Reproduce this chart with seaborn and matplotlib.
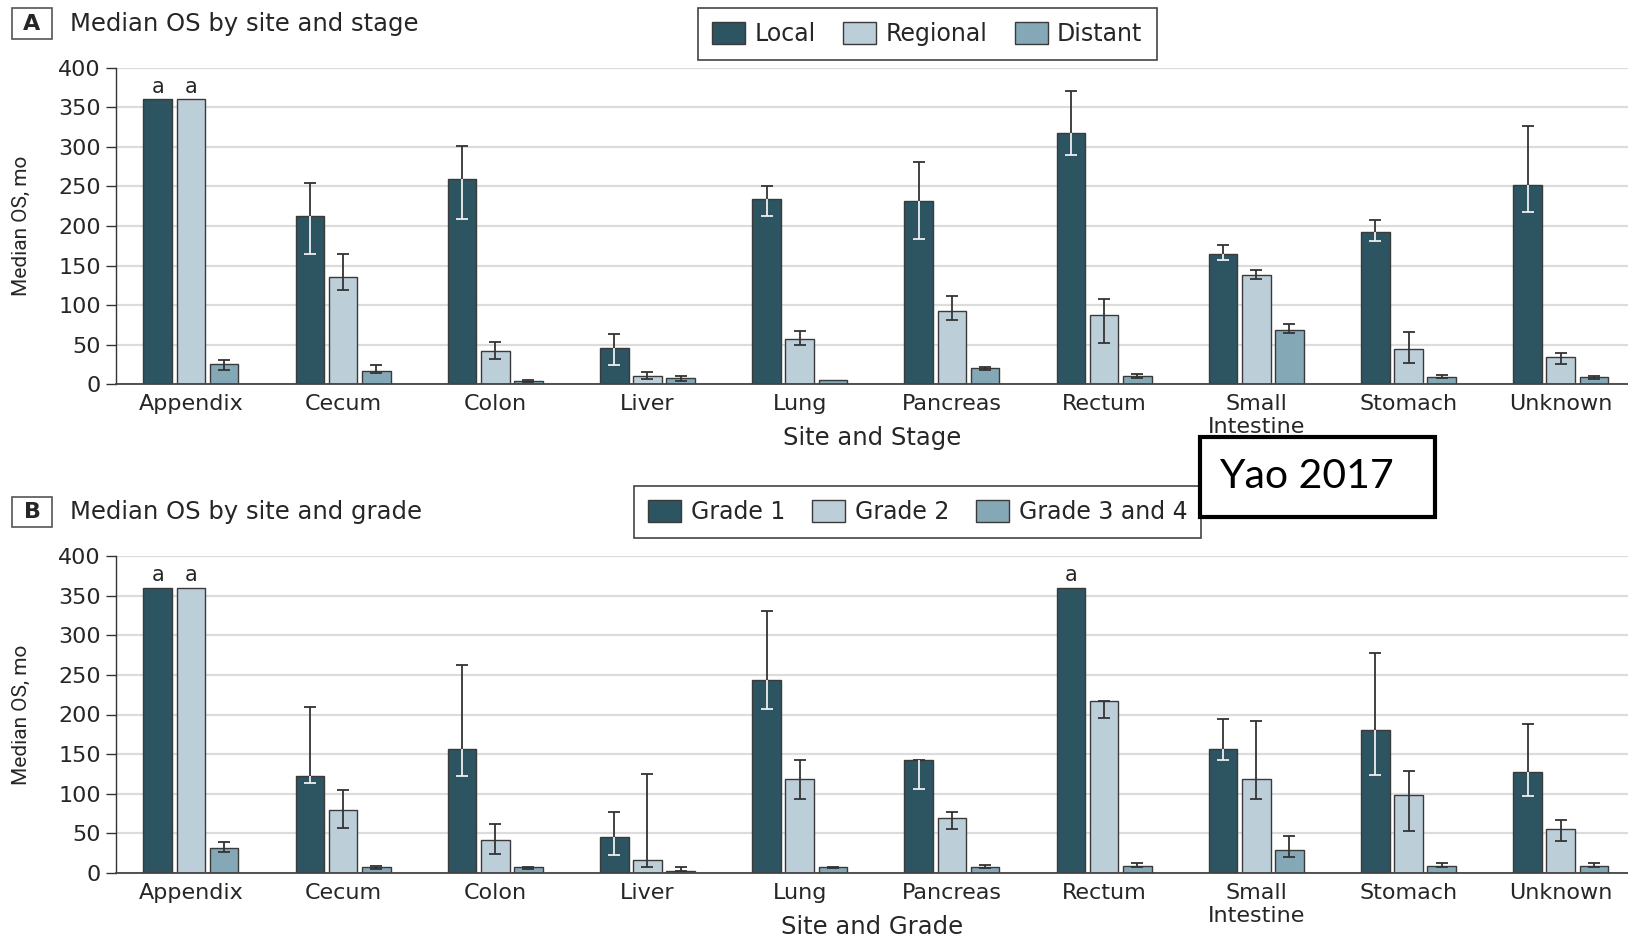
import numpy as np
import pandas as pd
import matplotlib
matplotlib.use("Agg")
import matplotlib.pyplot as plt
import seaborn as sns
from matplotlib.patches import Patch, Rectangle

# ---- data -------------------------------------------------------------
sites = ["Appendix", "Cecum", "Colon", "Liver", "Lung", "Pancreas",
         "Rectum", "Small\nIntestine", "Stomach", "Unknown"]
nan = np.nan

stage_levels = ["Local", "Regional", "Distant"]
stage_local = [360, 213, 260, 46, 234, 232, 318, 165, 192, 252]
stage_local_lo = [nan, 164, 209, 25, 213, 183, 290, 157, 181, 218]
stage_local_hi = [nan, 254, 301, 64, 251, 281, 371, 176, 207, 326]
stage_regional = [360, 136, 42, 11, 57, 92, 87, 138, 44, 34]
stage_regional_lo = [nan, 119, 32, 7, 50, 81, 52, 133, 27, 26]
stage_regional_hi = [nan, 165, 53, 15, 67, 111, 108, 144, 66, 40]
stage_distant = [26, 17, 4, 8, 6, 20, 11, 69, 9, 9]
stage_distant_lo = [18, 14, 2.5, 4, nan, 18, 8, 65, 7.5, 7]
stage_distant_hi = [31, 24, 5, 11, nan, 22, 13, 76, 12, 11]
stage_capped = [(0, 0), (1, 0)]          # (level, site) bars truncated at 360

grade_levels = ["Grade 1", "Grade 2", "Grade 3 and 4"]
grade_1 = [360, 122, 156, 45, 243, 142, 360, 157, 180, 127]
grade_1_lo = [nan, 113, 122, 23, 207, 106, nan, 143, 124, 97]
grade_1_hi = [nan, 210, 263, 77, 331, 142, nan, 194, 277, 188]
grade_2 = [360, 80, 42, 16, 119, 69, 217, 118, 99, 55]
grade_2_lo = [nan, 57, 24, 7, 94, 55, 196, 93, 53, 40]
grade_2_hi = [nan, 105, 62, 125, 143, 77, 217, 192, 129, 67]
grade_34 = [32, 7, 7, 3, 7, 8, 9, 29, 9, 9]
grade_34_lo = [26, 5, 5.5, 2, 6, 6, 7.5, 20, 7.5, 7.5]
grade_34_hi = [39, 9, 8, 8, 8, 10, 12, 47, 12, 12]
grade_capped = [(0, 0), (1, 0), (0, 6)]

yticks = [0, 50, 100, 150, 200, 250, 300, 350, 400]

# ---- style --------------------------------------------------------------
sns.set_style("white")
plt.rcParams["font.family"] = ["DejaVu Sans"]
colors = ["#2c5461", "#bccfd8", "#85a8b7"]
text_c = "#262626"
edge_c = "#3a3a3a"

W, H = 1628, 936
fig = plt.figure(figsize=(W / 100, H / 100), dpi=100)


def fx(px):
    return px / W


def fy(py):
    return 1 - py / H


def draw_panel(ax, levels, series, lows, highs, capped, xlabel):
    rows = []
    for lev, vals in zip(levels, series):
        for s, v in zip(sites, vals):
            rows.append({"site": s, "group": lev, "value": v})
    df = pd.DataFrame(rows)
    sns.barplot(data=df, x="site", y="value", hue="group", order=sites,
                hue_order=levels, palette=colors, saturation=1,
                width=0.654, gap=0.142, errorbar=None, edgecolor=edge_c,
                linewidth=1.0, legend=False, ax=ax, zorder=2)

    bar_groups = list(ax.containers)
    for i, cont in enumerate(bar_groups):
        xs = [b.get_x() + b.get_width() / 2 for b in cont.patches]
        vals, lo, hi = series[i], lows[i], highs[i]
        for x, v, l, h in zip(xs, vals, lo, hi):
            if np.isnan(l):
                continue
            ax.errorbar(x, v, yerr=[[v - l], [h - v]], fmt="none",
                        ecolor="#333333", elinewidth=1.3, capsize=4.6,
                        capthick=1.3, zorder=4)
            if i == 0:
                # part of the whisker lying inside a dark bar is drawn light
                ax.vlines(x, l, min(h, v), color="#eef2f4", lw=1.3, zorder=5)
                ax.plot([x], [l], marker="_", ms=9.2, mew=1.3,
                        color="#eef2f4", zorder=5)
        for (lev, si) in capped:
            if lev == i:
                ax.text(xs[si], series[i][si] + 3, "a", ha="center",
                        va="bottom", fontsize=15, color=text_c)

    ax.set_xlim(-0.492, 9.442)
    ax.set_ylim(0, 400)
    ax.set_yticks(yticks)
    ax.set_xticks(range(len(sites)))
    ax.set_xticklabels(sites)
    ax.yaxis.grid(True, color="#dcdcdc", lw=1.6, zorder=0)
    ax.xaxis.grid(False)
    ax.set_axisbelow(True)
    for s in ["top", "right"]:
        ax.spines[s].set_visible(False)
    ax.spines["left"].set_color("#333333")
    ax.spines["left"].set_linewidth(1.0)
    ax.spines["bottom"].set_color("#444444")
    ax.spines["bottom"].set_linewidth(1.3)
    ax.tick_params(axis="y", direction="out", length=7.5, width=1.0,
                   color="#333333", labelsize=16, labelcolor=text_c, pad=3.5,
                   left=True)
    ax.tick_params(axis="x", length=0, labelsize=16, labelcolor=text_c, pad=7)
    ax.set_ylabel("Median OS, mo", fontsize=15, color=text_c,
                  family=["Roboto", "DejaVu Sans"])
    ax.yaxis.set_label_coords(-0.0625, 0.5)
    ax.yaxis.label.set_va("center")
    ax.set_xlabel(xlabel, fontsize=17.5, color=text_c)
    ax.xaxis.set_label_coords(0.5, -0.17)
    ax.xaxis.label.set_va("center")


def panel_header(letter, box_top, box_bot, baseline, title):
    fig.patches.append(Rectangle((fx(11.5), fy(box_bot)), fx(52.3) - fx(11.5),
                                 fy(box_top) - fy(box_bot),
                                 transform=fig.transFigure, fc="white",
                                 ec="#555555", lw=1.2))
    fig.text(fx(32), fy((box_top + box_bot) / 2), letter, ha="center",
             va="center", fontsize=16, fontweight="bold", color=text_c)
    fig.text(fx(70), fy(baseline), title, ha="left", va="baseline",
             fontsize=17.5, color=text_c)


def legend(ax, levels, left, top):
    handles = [Patch(facecolor=c, edgecolor=edge_c, lw=1.0) for c in colors]
    leg = ax.legend(handles, levels, loc="upper left",
                    bbox_to_anchor=(fx(left), fy(top)),
                    bbox_transform=fig.transFigure, ncol=3, frameon=True,
                    fancybox=False, edgecolor="#444444", framealpha=1,
                    fontsize=17, handlelength=1.4, handleheight=1.05,
                    handletextpad=0.4, columnspacing=1.15, borderpad=0.6,
                    borderaxespad=0)
    leg.get_frame().set_linewidth(1.2)
    for t in leg.get_texts():
        t.set_color(text_c)


# ---- panel A: site and stage ------------------------------------------
axA = fig.add_axes([fx(116), fy(384.3), 1 - fx(116), (384.3 - 67.7) / H])
draw_panel(axA, stage_levels,
           [stage_local, stage_regional, stage_distant],
           [stage_local_lo, stage_regional_lo, stage_distant_lo],
           [stage_local_hi, stage_regional_hi, stage_distant_hi],
           stage_capped, "Site and Stage")
panel_header("A", 8.3, 39.3, 30.7, "Median OS by site and stage")
legend(axA, stage_levels, 698, 8)

# ---- panel B: site and grade ------------------------------------------
axB = fig.add_axes([fx(116), fy(873), 1 - fx(116), (873 - 556) / H])
draw_panel(axB, grade_levels,
           [grade_1, grade_2, grade_34],
           [grade_1_lo, grade_2_lo, grade_34_lo],
           [grade_1_hi, grade_2_hi, grade_34_hi],
           grade_capped, "Site and Grade")
panel_header("B", 497, 527, 519, "Median OS by site and grade")
legend(axB, grade_levels, 634, 486)

# ---- source tag ---------------------------------------------------------
fig.patches.append(Rectangle((fx(1200), fy(517)), fx(1435) - fx(1200),
                             fy(437) - fy(517), transform=fig.transFigure,
                             fc="white", ec="black", lw=3.0, zorder=10))
fig.text(fx(1219), fy(488), "Yao 2017", ha="left", va="baseline",
         fontsize=29.5, family=["Lato", "DejaVu Sans"], color="black",
         zorder=11)

fig.savefig("out.png", dpi=100)
